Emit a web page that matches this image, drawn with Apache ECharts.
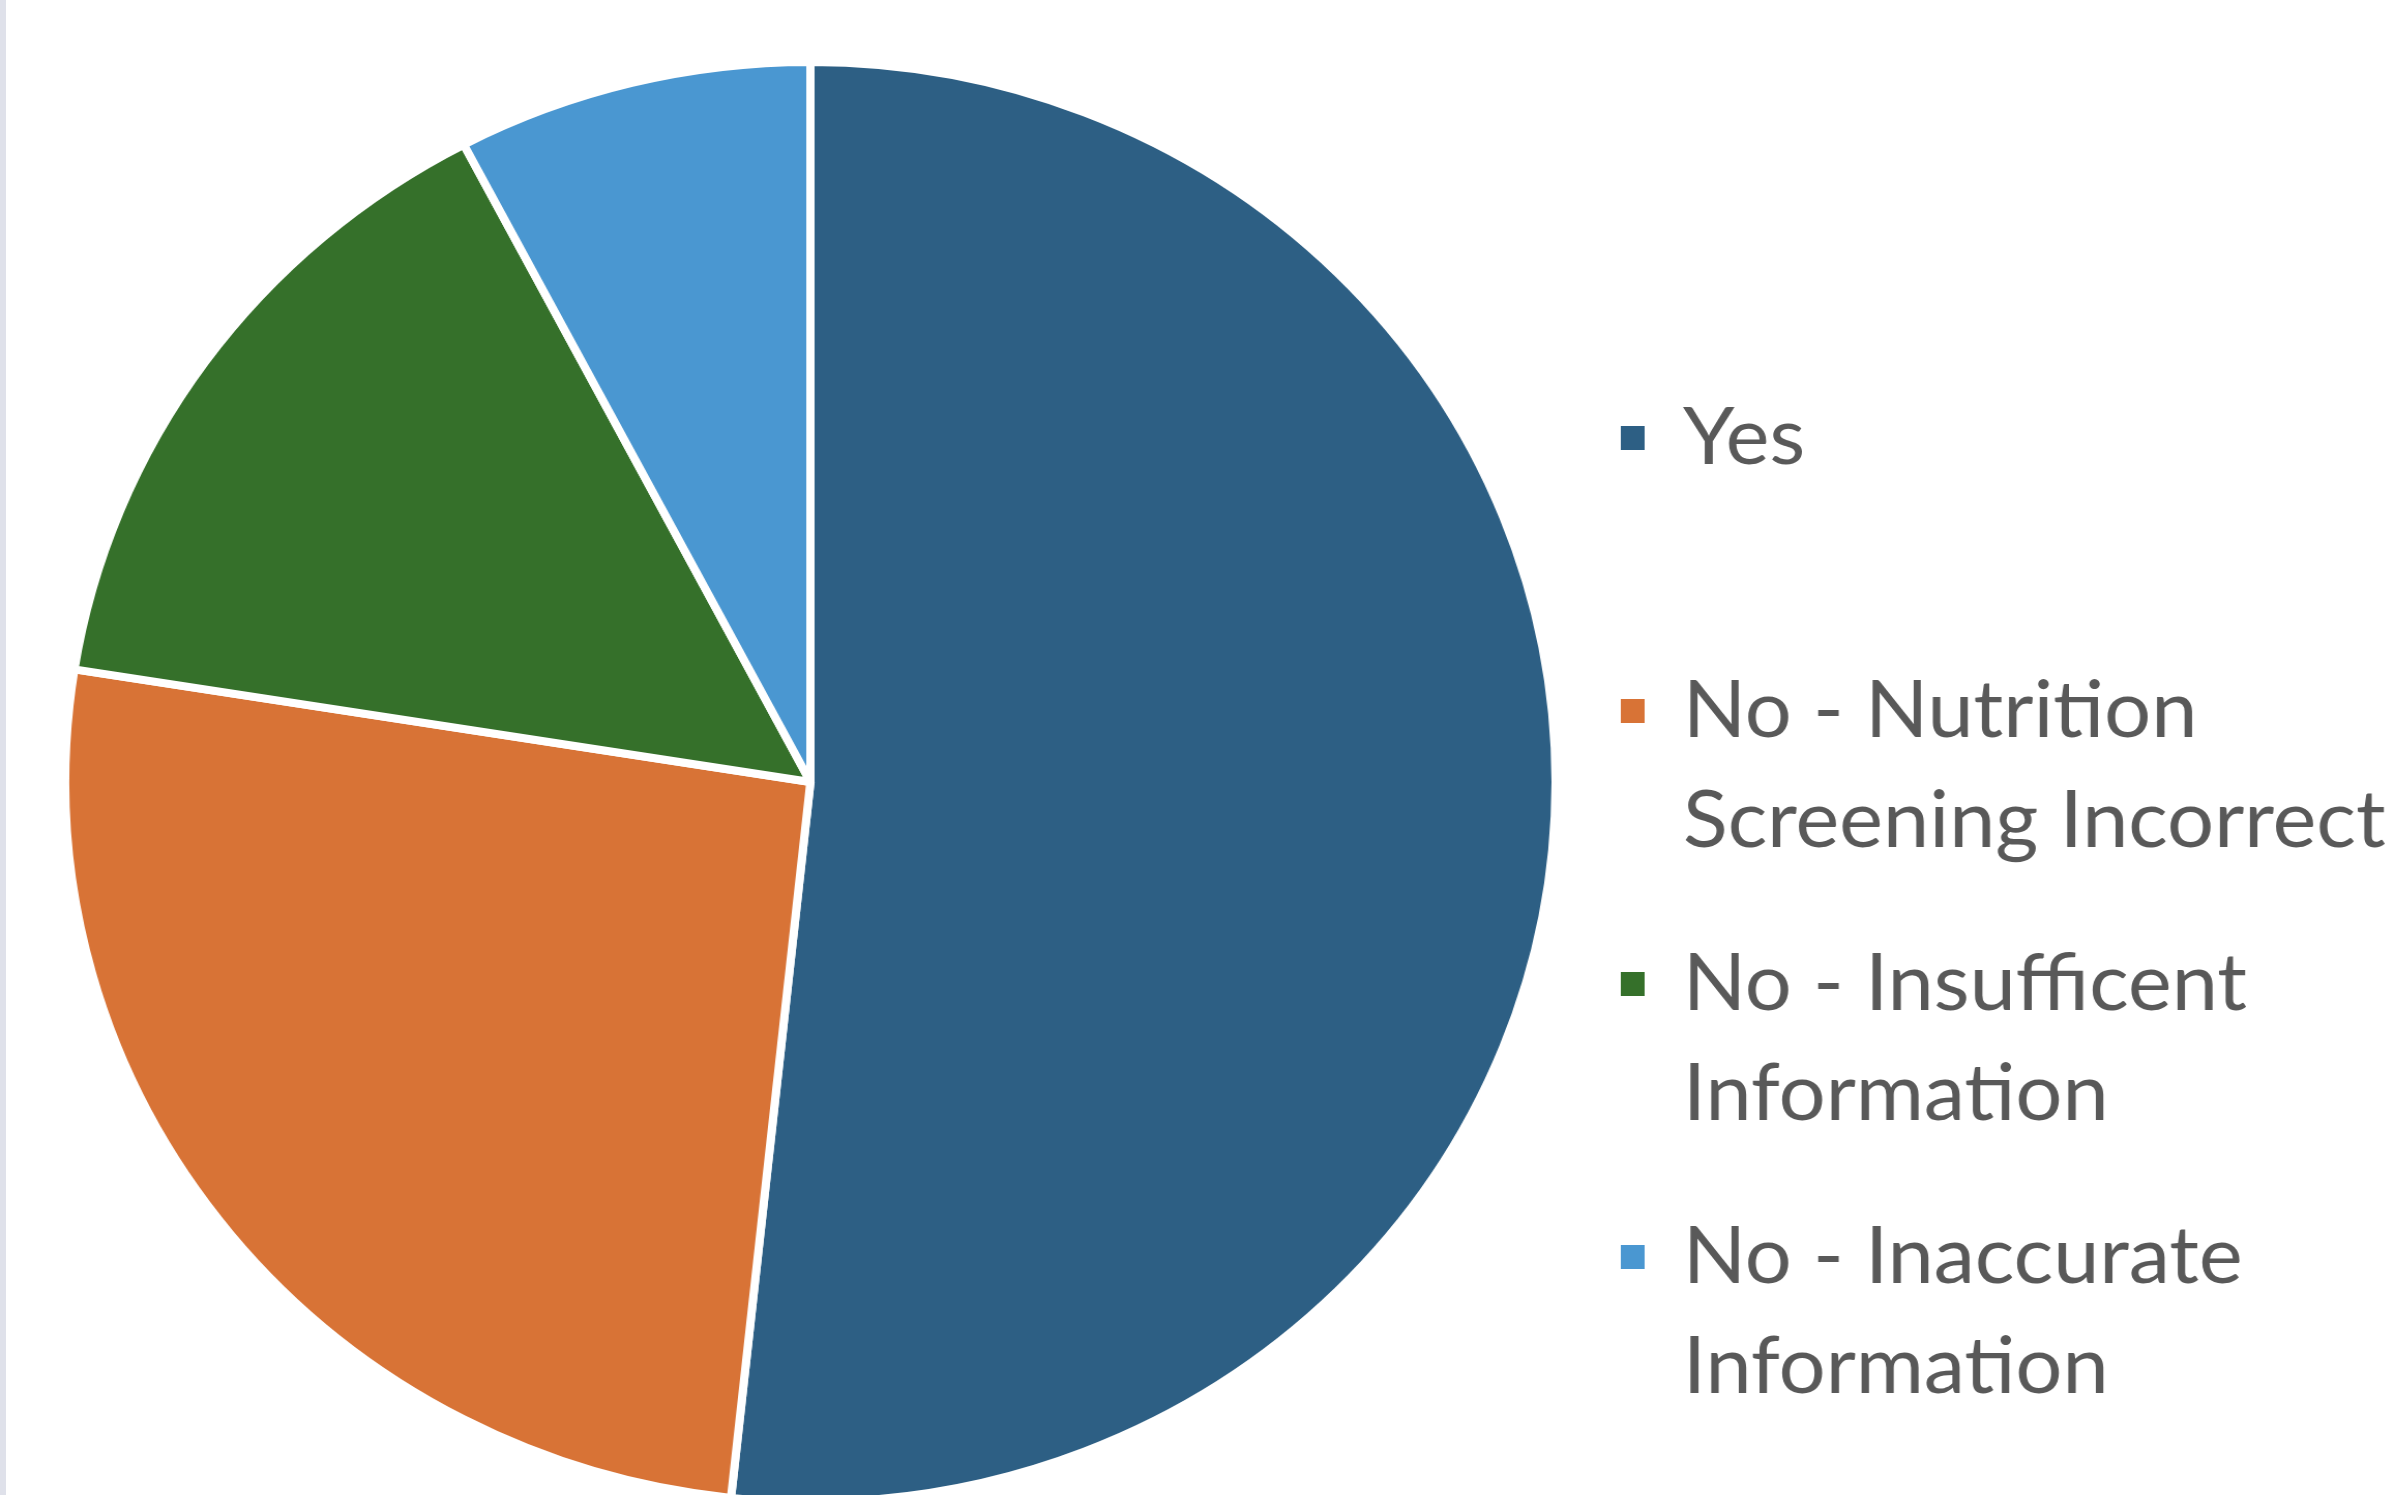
<!DOCTYPE html>
<html>
<head>
<meta charset="utf-8">
<script src="https://cdn.jsdelivr.net/npm/echarts@6/dist/echarts.min.js"></script>
<style>
html, body { margin: 0; padding: 0; background: #fff; overflow: hidden; }
/* 原图略微横向拉伸 */
#main { width: 2321px; height: 1495px; transform: scale(1.035, 1); transform-origin: 0 0; }
#edge { position: absolute; left: 0; top: 0; width: 6px; height: 1495px; background: #dfe1ea; }
</style>
</head>
<body>
<div id="main"></div>
<div id="edge"></div>
<script>
// 数据
var categories = ['Yes', 'No - Nutrition Screening Incorrect', 'No - Insufficent Information', 'No - Inaccurate Information'];
var legendLines = ['Yes\n ', 'No - Nutrition\nScreening Incorrect', 'No - Insufficent\nInformation', 'No - Inaccurate\nInformation'];
var shares = [51.7, 25.8, 14.8, 7.7];
var colors = ['#2d5f84', '#d87336', '#35702a', '#4a97d1'];

var pieData = [];
for (var i = 0; i < categories.length; i++) {
	pieData.push({ name: categories[i], value: shares[i] });
}

var myChart = echarts.init(document.getElementById('main'));
var option = {
	color: colors,
	animation: false,
	legend: {
		orient: 'vertical',
		left: 1566,
		top: 383,
		padding: 0,
		itemGap: 53,
		itemWidth: 55,
		itemHeight: 134,
		// 方块放在第一行旁边
		icon: 'path://M0,0h23v24h-23zM55,134h0.01',
		itemStyle: { borderWidth: 0 },
		selectedMode: false,
		formatter: function(name) {
			return legendLines[categories.indexOf(name)];
		},
		textStyle: {
			fontFamily: 'Lato',
			fontSize: 80,
			lineHeight: 110,
			color: '#595959'
		},
		data: categories
	},
	series: [{
		type: 'pie',
		center: [783, 782],
		radius: 720,
		startAngle: 90,
		clockwise: true,
		label: { show: false },
		labelLine: { show: false },
		itemStyle: {
			borderColor: '#fff',
			borderWidth: 8
		},
		emphasis: { disabled: true },
		data: pieData
	}]
};
myChart.setOption(option);
</script>
</body>
</html>
